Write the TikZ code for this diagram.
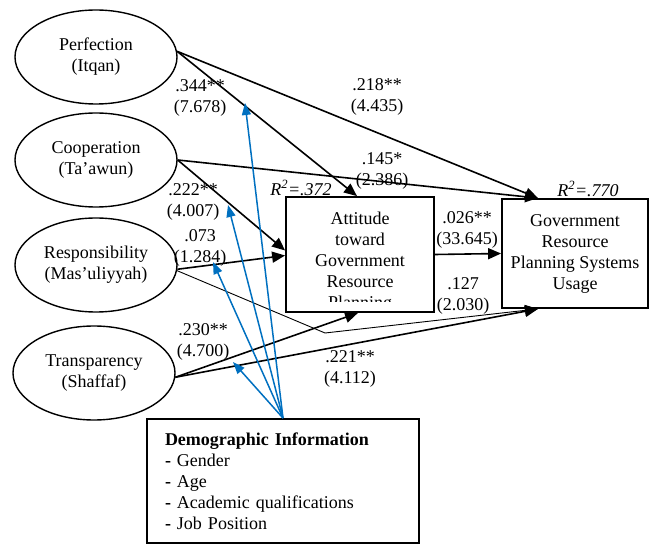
\documentclass[tikz,border=0pt]{standalone}
\usepackage{fontspec}
\setmainfont{Liberation Serif}
\usetikzlibrary{arrows.meta,shapes.geometric}
\definecolor{modblue}{RGB}{0,112,192}
\begin{document}
\begin{tikzpicture}[x=1pt,y=-1pt,
  font=\fontsize{18}{21}\selectfont,
  latent/.style={ellipse, draw, line width=1.4pt, minimum width=162pt, minimum height=94pt, inner sep=0pt, align=center},
  boxnode/.style={draw, rectangle, line width=1.8pt},
  patharrow/.style={line width=1.6pt, -{Triangle[length=13pt,width=11pt]}},
  thinpath/.style={line width=0.9pt, -{Triangle[length=13pt,width=11pt]}},
  modarrow/.style={modblue, line width=1.5pt, -{Triangle[length=12pt,width=9pt]}},
  coef/.style={align=center, inner sep=0pt}]
\useasboundingbox (0,0) rectangle (656,545);

% latent constructs
\node[latent] (perf)  at (96,57)  {Perfection\\(Itqan)};
\node[latent] (coop)  at (96,160) {Cooperation\\(Ta’awun)};
\node[latent] (resp)  at (96,265) {Responsibility\\(Mas’uliyyah)};
\node[latent] (trans) at (94,373) {Transparency\\(Shaffaf)};

% attitude box (text clipped at bottom as in the original)
\node[boxnode, minimum width=148pt, minimum height=115pt] (att) at (360,254.5) {};
\begin{scope}
  \clip (287,198) rectangle (433,302);
  \node[anchor=north, align=center, inner sep=0pt] (atttext) at (360,212) {Attitude\\toward\\Government\\Resource\\Planning};
\end{scope}

% usage box
\node[boxnode, minimum width=146pt, minimum height=109pt, align=center] (grp) at (575,253.5) {Government\\Resource\\Planning Systems\\Usage};

% demographic box
\node[boxnode, minimum width=272pt, minimum height=124pt, text width=236pt, inner xsep=18pt, align=left] (demo) at (283,481)
  {\textbf{Demographic Information}\\\textbf{-} Gender\\\textbf{-} Age\\\textbf{-} Academic qualifications\\\textbf{-} Job Position};

% R squared
\node[inner sep=0pt] (r1) at (301,188) {\textit{R\raisebox{1pt}{\textsuperscript{2}}=.372}};
\node[inner sep=0pt] (r2) at (588,189) {\textit{R\raisebox{1pt}{\textsuperscript{2}}=.770}};

% points
\coordinate (bend) at (325,333);
\coordinate (m1) at (245,103);
\coordinate (m2) at (228,205);
\coordinate (m3) at (213,262);
\coordinate (m4) at (233,362);

% structural paths
\draw[patharrow] (perf.4) -- ([xshift=-37pt]grp.north);
\draw[patharrow] (perf.4) -- ([xshift=-3pt]att.north);
\draw[patharrow] (coop.east) -- ([xshift=-37pt]grp.north);
\draw[patharrow] (coop.east) -- ([yshift=4pt]att.west);
\draw[patharrow] (resp.-3) -- ([yshift=-1pt]att.west);
\draw[thinpath] (resp.-4) -- (bend) -- ([xshift=-37pt]grp.south);
\draw[patharrow] (trans.-3) -- ([xshift=-2pt]att.south);
\draw[patharrow] (trans.-3) -- ([xshift=-37pt]grp.south);
\draw[patharrow] (att.east) -- (grp.west);

% moderating arrows
\draw[modarrow] (demo.north) -- (m1);
\draw[modarrow] (demo.north) -- (m2);
\draw[modarrow] (demo.north) -- (m3);
\draw[modarrow] (demo.north) -- (m4);

% coefficients
\node[coef] (l344) at (200,98)  {.344**\\(7.678)};
\node[coef] (l218) at (377,97)  {.218**\\(4.435)};
\node[coef] (l222) at (193,202) {.222**\\(4.007)};
\node[coef] (l145) at (382,171) {.145*\\(2.386)};
\node[coef] (l073) at (200,248) {.073\\(1.284)};
\node[coef] (l026) at (467,230) {.026**\\(33.645)};
\node[coef] (l127) at (463,296) {.127\\(2.030)};
\node[coef] (l230) at (203,342) {.230**\\(4.700)};
\node[coef] (l221) at (350,369) {.221**\\(4.112)};
\end{tikzpicture}
\end{document}
